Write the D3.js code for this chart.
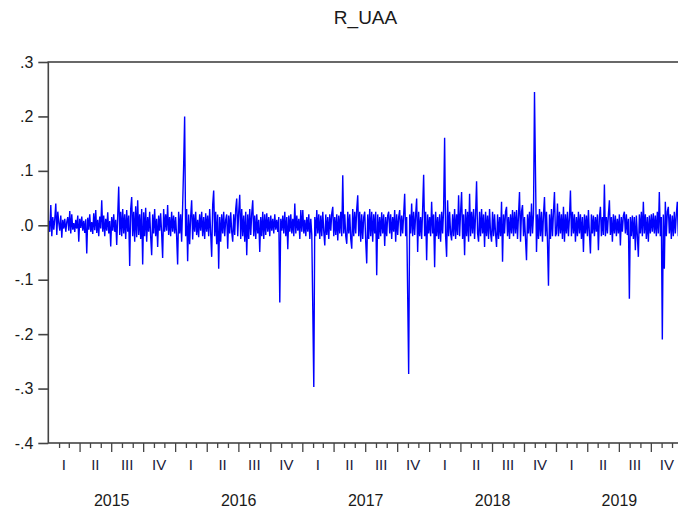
<!DOCTYPE html>
<html>
<head>
<meta charset="utf-8">
<script src="https://cdn.jsdelivr.net/npm/d3@7"></script>
<style>
  html, body { margin: 0; padding: 0; background: #fff; }
  svg { display: block; font-family: "Liberation Sans", Arial, sans-serif; }
</style>
</head>
<body>
<svg id="chart" width="678" height="511"></svg>
<script>
// Daily log returns of UAA, one array per calendar year, sampled evenly through the year.
const r2015 = [
  0.008,-0.012,0.037,-0.02,0.015,-0.008,0.012,0.04,-0.018,0.025,
  0.005,-0.01,0.018,-0.023,0.01,-0.006,0.012,-0.012,0.006,0.015,
  -0.01,0.026,-0.015,0.02,-0.008,0.004,-0.012,0.01,-0.006,0.018,
  -0.03,0.012,-0.005,0.016,-0.01,0.008,-0.014,0.011,-0.052,0.014,
  -0.008,0.02,-0.012,0.006,-0.016,0.022,-0.009,0.028,-0.014,0.01,
  -0.02,0.016,-0.006,0.046,-0.012,0.018,-0.02,0.012,-0.01,0.024,
  -0.015,0.008,-0.039,0.015,-0.01,0.02,-0.012,0.01,-0.036,0.018,
  0.071,-0.018,0.025,-0.02,0.03,-0.015,0.02,-0.025,0.028,-0.012,
  0.018,-0.075,0.03,0.052,-0.02,0.025,-0.03,0.035,-0.022,0.046,
  -0.018,0.02,-0.025,0.03,-0.072,0.024,-0.02,0.032,-0.03,0.015,
  -0.012,0.025,-0.02,-0.055,0.02,-0.015,0.03,-0.02,0.012,-0.04,
  0.018,-0.01,0.022,-0.015,-0.06,0.03,-0.012,0.02,-0.01,0.037,
  -0.018,0.015,-0.02,0.025,-0.012,0.018,-0.015
];
const r2016 = [
  0.015,-0.02,-0.072,0.025,-0.015,0.02,-0.03,0.035,0.11,0.2,
  -0.02,0.03,-0.066,0.02,-0.035,0.015,0.046,-0.026,0.02,-0.012,
  0.025,-0.018,0.01,-0.022,0.02,-0.01,0.025,-0.02,0.015,-0.025,
  0.022,-0.012,0.018,-0.02,0.03,-0.015,-0.058,0.037,0.064,-0.02,
  0.025,-0.035,0.02,-0.08,0.015,-0.03,0.02,-0.015,0.025,-0.02,
  0.01,0.02,-0.043,0.018,-0.015,0.024,-0.012,-0.03,0.02,-0.018,
  0.03,0.049,-0.02,0.025,0.056,-0.025,0.03,-0.02,0.018,-0.03,
  0.025,-0.055,0.02,-0.025,0.03,-0.018,0.022,0.046,-0.02,0.018,
  -0.025,0.02,-0.015,0.01,-0.049,0.015,-0.02,0.025,-0.025,0.02,
  -0.018,0.022,-0.012,0.015,-0.02,0.018,-0.01,0.012,-0.015,0.02,
  -0.008,0.01,-0.012,0.015,-0.142,0.012,-0.01,0.018,-0.015,0.025,
  -0.02,0.015,-0.044,0.018,-0.012,0.02,-0.015,0.012,-0.02,0.04,
  -0.015,0.018,-0.01,0.012,-0.025,0.028,-0.012
];
const r2017 = [
  0.028,-0.015,0.01,-0.02,0.015,-0.012,0.02,-0.025,0.012,-0.018,
  -0.155,-0.297,0.015,-0.02,0.028,-0.015,0.02,-0.025,0.018,-0.02,
  0.025,-0.012,-0.037,0.02,-0.018,0.015,-0.025,0.02,-0.01,0.022,
  0.034,-0.02,0.015,-0.018,0.02,-0.028,0.018,-0.015,0.025,-0.02,
  0.092,-0.015,0.02,-0.02,-0.034,0.025,-0.015,0.02,-0.025,-0.043,
  0.03,-0.02,0.025,-0.015,0.03,0.055,-0.02,0.025,-0.03,0.02,
  -0.025,0.015,0.025,-0.03,-0.07,0.02,-0.025,0.03,-0.02,0.025,
  -0.03,0.02,-0.015,0.025,-0.092,0.02,-0.025,0.015,-0.02,0.024,
  -0.015,0.02,-0.038,0.015,-0.02,0.018,0.025,-0.015,0.02,-0.025,
  0.015,-0.012,0.028,-0.03,0.02,-0.018,0.015,0.028,-0.02,0.018,
  -0.015,0.02,0.058,-0.02,0.015,-0.126,-0.273,0.02,-0.015,0.04,
  -0.02,0.025,-0.018,0.02,0.049,-0.049,0.025,-0.02,0.015,-0.025,
  0.03,0.093,-0.02,0.025,-0.064,0.02,-0.015
];
const r2018 = [
  0.015,-0.02,0.043,-0.015,0.02,-0.077,0.025,-0.02,0.015,-0.025,
  0.02,-0.03,0.025,-0.015,0.03,0.161,-0.02,-0.058,0.046,-0.02,
  0.025,-0.015,-0.028,0.02,-0.02,0.03,-0.025,0.02,-0.018,0.055,
  -0.02,0.025,0.061,-0.025,0.02,-0.055,0.03,-0.02,0.025,-0.03,
  0.058,-0.02,0.025,-0.015,0.03,-0.025,0.02,0.081,-0.015,-0.03,
  0.025,-0.02,0.03,-0.015,0.02,-0.04,0.025,-0.02,0.018,-0.025,
  0.03,-0.015,-0.03,0.025,-0.02,0.02,-0.015,-0.04,0.02,-0.025,
  0.015,-0.02,0.043,-0.067,0.02,-0.015,0.025,0.034,-0.02,0.015,
  -0.025,0.02,-0.015,0.028,-0.02,0.025,-0.015,0.028,-0.025,0.02,
  0.061,-0.03,0.025,0.037,-0.02,0.015,-0.025,-0.064,0.02,-0.015,
  0.025,-0.02,0.04,-0.015,0.02,0.245,0.095,-0.049,0.02,-0.025,
  0.03,-0.02,0.025,-0.03,0.02,0.052,-0.02,0.025,-0.03,-0.111,
  0.02,-0.025,0.03,-0.02,0.025,0.061,-0.02
];
const r2019 = [
  -0.015,0.04,-0.02,0.025,-0.015,0.02,-0.025,0.034,-0.03,0.02,
  -0.015,0.025,-0.02,0.015,0.064,-0.02,0.025,-0.015,0.02,-0.03,
  0.015,-0.02,0.025,-0.015,0.02,-0.025,0.015,-0.049,0.02,-0.015,
  0.018,-0.02,0.028,-0.015,-0.052,0.02,-0.015,0.018,-0.02,0.015,
  -0.012,0.02,-0.046,0.015,0.034,-0.02,0.015,-0.018,0.075,-0.02,
  0.015,-0.015,0.02,0.046,-0.018,0.015,-0.03,0.02,-0.015,0.018,
  -0.02,0.012,-0.015,0.02,-0.037,0.015,-0.012,0.018,0.025,-0.015,
  0.02,-0.018,0.012,-0.135,0.015,-0.02,0.018,-0.025,0.015,-0.046,
  0.018,-0.02,-0.058,0.02,-0.015,0.025,-0.02,0.043,-0.015,0.02,
  -0.025,0.015,-0.03,0.018,-0.015,0.02,-0.012,0.022,-0.015,0.018,
  -0.02,0.025,-0.015,0.061,-0.02,0.015,-0.21,0.02,-0.08,0.043,
  -0.02,0.025,0.034,-0.015,0.02,-0.025,0.018,-0.02,0.025,-0.015,
  0.02,0.043,-0.02,0.018,-0.015
];

const years = [2015, 2016, 2017, 2018, 2019];
const yearlyReturns = [r2015, r2016, r2017, r2018, r2019];
const quarterLabels = ["I", "II", "III", "IV"];
const yTickValues = [0.3, 0.2, 0.1, 0.0, -0.1, -0.2, -0.3, -0.4];
const yTickLabels = [".3", ".2", ".1", ".0", "-.1", "-.2", "-.3", "-.4"];
const titleText = "R_UAA";

// Samples per year used when spreading each year's values over the calendar.
const SAMPLES_PER_YEAR = 127;

const svg = d3.select("#chart");
const plot = { left: 48.3, top: 62, right: 682.8, bottom: 443 };

const x = d3.scaleUtc()
  .domain([Date.UTC(2015, 0, 1), Date.UTC(2020, 0, 1)])
  .range([plot.left, plot.right]);
const y = d3.scaleLinear()
  .domain([-0.4, 0.3])
  .range([plot.bottom, plot.top]);

const points = years.flatMap((yr, k) => {
  const start = Date.UTC(yr, 0, 1);
  const span = (Date.UTC(yr + 1, 0, 1) - start) / SAMPLES_PER_YEAR;
  return yearlyReturns[k].map((v, i) => ({ date: new Date(start + (i + 0.5) * span), value: v }));
});

svg.append("defs").append("clipPath").attr("id", "plotClip")
  .append("rect")
  .attr("x", plot.left).attr("y", plot.top)
  .attr("width", plot.right - plot.left).attr("height", plot.bottom - plot.top);

// Return series
svg.append("path")
  .datum(points)
  .attr("clip-path", "url(#plotClip)")
  .attr("fill", "none")
  .attr("stroke", "#0000ff")
  .attr("stroke-width", 1.4)
  .attr("stroke-linejoin", "miter")
  .attr("d", d3.line().x(d => x(d.date)).y(d => y(d.value)));

// Frame
svg.append("rect")
  .attr("x", plot.left).attr("y", plot.top)
  .attr("width", plot.right - plot.left).attr("height", plot.bottom - plot.top)
  .attr("fill", "none")
  .attr("stroke", "#444")
  .attr("stroke-width", 1.6);

// Y axis
const yAxis = svg.append("g")
  .attr("transform", `translate(${plot.left},0)`)
  .call(d3.axisLeft(y)
    .tickValues(yTickValues)
    .tickSize(10)
    .tickPadding(5)
    .tickFormat((d, i) => yTickLabels[i]));
yAxis.select(".domain").remove();
yAxis.selectAll(".tick line").attr("stroke", "#444").attr("stroke-width", 1.6);
yAxis.selectAll(".tick text")
  .attr("fill", "#1a1a1a")
  .style("font-family", "'Liberation Sans', Arial, sans-serif")
  .style("font-size", "16px");

// X axis: month ticks, longer ticks at quarter boundaries
const months = d3.utcMonths(Date.UTC(2015, 1, 1), Date.UTC(2020, 0, 1));
const xAxis = svg.append("g")
  .attr("transform", `translate(0,${plot.bottom})`)
  .call(d3.axisBottom(x).tickValues(months).tickSize(5).tickFormat(""));
xAxis.select(".domain").remove();
xAxis.selectAll(".tick line")
  .attr("stroke", "#444")
  .attr("stroke-width", 1.3)
  .attr("y2", d => (d.getUTCMonth() % 3 === 0 ? 9 : 5));

// Quarter and year labels
const quarterData = years.flatMap(yr => quarterLabels.map((lab, q) => ({
  mid: new Date((Date.UTC(yr, q * 3, 1) + Date.UTC(yr, q * 3 + 3, 1)) / 2),
  label: lab
})));
svg.append("g").selectAll("text")
  .data(quarterData)
  .join("text")
  .attr("x", d => x(d.mid))
  .attr("y", plot.bottom + 27)
  .attr("text-anchor", "middle")
  .attr("fill", "#1a1a3a")
  .style("font-size", "15px")
  .text(d => d.label);

svg.append("g").selectAll("text")
  .data(years)
  .join("text")
  .attr("x", yr => x(new Date((Date.UTC(yr, 0, 1) + Date.UTC(yr + 1, 0, 1)) / 2)))
  .attr("y", plot.bottom + 63)
  .attr("text-anchor", "middle")
  .attr("fill", "#1a1a1a")
  .style("font-size", "16px")
  .text(yr => yr);

// Title
svg.append("text")
  .attr("x", (plot.left + plot.right) / 2)
  .attr("y", 24)
  .attr("text-anchor", "middle")
  .attr("fill", "#1a1a1a")
  .style("font-size", "19px")
  .text(titleText);
</script>
</body>
</html>
